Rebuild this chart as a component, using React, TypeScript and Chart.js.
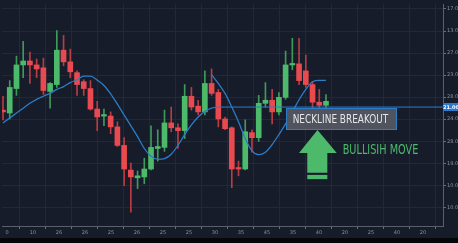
import { useEffect, useRef } from 'react';
import { Chart, registerables } from 'chart.js';

Chart.register(...registerables);

// ---- data (price units) ----
const candleOpen = [14.41, 14.28, 15.39, 16.46, 16.64, 16.46, 16.33, 15.26, 15.57, 17.13, 16.60, 16.11, 15.70, 15.39, 14.46, 14.14, 14.14, 13.65, 12.81, 11.69, 11.34, 11.38, 11.74, 12.67, 12.72, 13.83, 13.61, 13.48, 15.04, 14.59, 14.33, 15.62, 15.21, 14.01, 13.61, 11.78, 11.74, 13.39, 13.16, 14.72, 14.86, 14.33, 14.99, 16.46, 16.51, 16.19, 15.57, 14.77, 14.63];
const candleClose = [14.33, 15.44, 16.46, 16.64, 16.46, 16.28, 15.30, 15.62, 17.13, 16.60, 16.15, 15.57, 15.39, 14.46, 14.10, 14.17, 13.65, 12.81, 11.74, 11.38, 11.43, 11.74, 12.72, 12.76, 13.83, 13.61, 13.48, 15.04, 14.55, 14.33, 15.62, 15.17, 14.01, 13.57, 11.74, 11.74, 13.43, 13.16, 14.72, 14.86, 14.33, 14.99, 16.46, 16.51, 15.75, 15.57, 14.77, 14.63, 14.81];
const candleHigh = [15.04, 15.75, 16.86, 17.53, 17.04, 16.73, 16.77, 15.66, 18.02, 17.80, 17.18, 16.19, 15.79, 15.75, 14.81, 14.46, 14.33, 13.88, 13.16, 12.01, 11.65, 12.23, 13.70, 13.52, 14.41, 14.55, 13.79, 15.57, 15.44, 14.86, 16.19, 16.28, 15.35, 14.10, 13.65, 12.10, 13.97, 13.52, 15.08, 15.66, 15.35, 15.21, 17.09, 17.67, 17.67, 16.91, 15.70, 15.35, 15.12];
const candleLow = [13.97, 14.01, 15.08, 15.88, 15.62, 15.88, 15.12, 14.50, 15.44, 16.42, 15.88, 15.08, 15.08, 14.41, 13.48, 13.70, 13.34, 12.76, 10.98, 9.78, 10.85, 11.07, 11.70, 12.10, 12.54, 13.43, 12.67, 13.12, 14.41, 14.19, 14.19, 15.08, 13.65, 13.52, 10.89, 11.43, 11.70, 12.50, 12.99, 14.55, 13.79, 14.19, 14.90, 16.24, 15.57, 15.44, 14.33, 14.10, 14.23];

// moving average, first stretch (candles 0..32)
const maTrend = [13.83, 14.06, 14.28, 14.50, 14.72, 14.90, 15.04, 15.17, 15.35, 15.48, 15.66, 15.79, 15.95, 15.95, 15.77, 15.53, 15.15, 14.68, 14.19, 13.70, 13.21, 12.67, 12.32, 12.18, 12.21, 12.41, 12.81, 13.30, 13.74, 14.10, 14.35, 14.50, 14.55];
// moving average, second stretch (from candle 31)
const maSwingStart = 31;
const maSwing = [16.02, 15.62, 15.17, 14.55, 13.88, 13.12, 12.56, 12.39, 12.50, 12.85, 13.30, 13.79, 14.33, 14.88, 15.35, 15.70, 15.76, 15.76];

const necklineLevel = 14.55;
const necklineStart = 32;

const xTickLabels = ['0', '10', '26', '26', '25', '26', '25', '25', '30', '35', '45', '35', '40', '20', '25', '40', '20'];
// y tick labels from bottom (value 10) to top (value 19)
const yTickValues = [10, 11, 12, 13, 14, 15, 16, 17, 18, 19];
const yTickLabels = ['10.00', '10.00', '19.00', '28.00', '24.00', '28.00', '23.00', '27.00', '13.00', '17.00'];
const priceTag = '21.00';
const calloutText = 'NECKLINE BREAKOUT';
const moveText = 'BULLISIH MOVE';

// ---- layout / styling ----
const X_MIN = -0.149;
const X_MAX = 65.39;
const GRID_MIN = -0.192;
const GRID_MAX = 16.77;
const Y_MIN = 9.154;
const Y_MAX = 19.225;

const BG = '#171c2b';
const GRID = '#222839';
const AXIS = '#5a5f69';
const TICK_TEXT = '#8b909a';
const GREEN = '#4cb96b';
const RED = '#e84a4f';
const GREEN_WICK = '#3f9a5a';
const RED_WICK = '#b93c42';
const BLUE = '#2c7cc6';

// annotation anchors in data units
const callout = { x1: 42.06, x2: 58.4, yTop: 14.5, yBot: 13.57, textX1: 43.05, textX2: 57.26, textBase: 13.847 };
const arrow = { apexX: 46.74, apexY: 13.51, headL: 43.99, headR: 49.6, headY: 12.465, shaftL: 45.22, shaftR: 48.2, shaftBot: 11.574, barTop: 11.472, barBot: 11.28 };
const moveLabel = { x1: 50.48, x2: 61.72, base: 12.438 };

function drawFitText(ctx: CanvasRenderingContext2D, text: string, font: string, color: string, xl: number, xr: number, base: number) {
  ctx.save();
  ctx.font = font;
  ctx.fillStyle = color;
  ctx.textAlign = 'left';
  ctx.textBaseline = 'alphabetic';
  const w = ctx.measureText(text).width;
  ctx.translate(xl, base);
  ctx.scale((xr - xl) / w, 1);
  ctx.fillText(text, 0, 0);
  ctx.restore();
}

export default function App() {
  const ref = useRef<HTMLCanvasElement>(null);
  useEffect(() => {
    document.body.style.margin = '0';
    document.body.style.background = '#050608';
    const canvas = ref.current!;
    const idx = candleOpen.map((_, i) => i);
    const up = (i: number) => candleClose[i] >= candleOpen[i];

    const bgPlugin = {
      id: 'bg',
      beforeDraw(chart: any) {
        const ctx = chart.ctx;
        ctx.save();
        ctx.fillStyle = BG;
        ctx.fillRect(0, 0, chart.width, chart.height);
        ctx.restore();
      },
    };

    const annotations = {
      id: 'annotations',
      afterDatasetsDraw(chart: any) {
        const ctx = chart.ctx;
        const xs = chart.scales.x;
        const ys = chart.scales.y;
        const px = (v: number) => xs.getPixelForValue(v);
        const py = (v: number) => ys.getPixelForValue(v);
        // callout box
        ctx.save();
        const bx1 = Math.round(px(callout.x1)) + 0.5;
        const bx2 = Math.round(px(callout.x2)) + 0.5;
        const by1 = Math.round(py(callout.yTop)) + 0.5;
        const by2 = Math.round(py(callout.yBot)) + 0.5;
        ctx.fillStyle = '#4f545e';
        ctx.fillRect(bx1, by1, bx2 - bx1, by2 - by1);
        ctx.strokeStyle = BLUE;
        ctx.lineWidth = 1;
        ctx.strokeRect(bx1, by1, bx2 - bx1, by2 - by1);
        ctx.restore();
        drawFitText(ctx, calloutText, '12.5px "Liberation Sans Narrow", "DejaVu Sans Condensed", sans-serif', '#e6e7ea', px(callout.textX1), px(callout.textX2), py(callout.textBase));
        // arrow
        ctx.save();
        ctx.fillStyle = GREEN;
        ctx.beginPath();
        ctx.moveTo(px(arrow.apexX), py(arrow.apexY));
        ctx.lineTo(px(arrow.headR), py(arrow.headY));
        ctx.lineTo(px(arrow.shaftR), py(arrow.headY));
        ctx.lineTo(px(arrow.shaftR), py(arrow.shaftBot));
        ctx.lineTo(px(arrow.shaftL), py(arrow.shaftBot));
        ctx.lineTo(px(arrow.shaftL), py(arrow.headY));
        ctx.lineTo(px(arrow.headL), py(arrow.headY));
        ctx.closePath();
        ctx.fill();
        ctx.fillRect(px(arrow.shaftL), py(arrow.barTop), px(arrow.shaftR) - px(arrow.shaftL), py(arrow.barBot) - py(arrow.barTop));
        ctx.restore();
        drawFitText(ctx, moveText, '14.5px "Liberation Sans Narrow", "DejaVu Sans Condensed", sans-serif', GREEN, px(moveLabel.x1), px(moveLabel.x2), py(moveLabel.base));
      },
      afterDraw(chart: any) {
        const ctx = chart.ctx;
        const ys = chart.scales.y;
        const y = Math.round(ys.getPixelForValue(necklineLevel));
        ctx.save();
        ctx.fillStyle = '#2a7ad0';
        ctx.fillRect(ys.left + 1, y - 4, ys.right - ys.left - 1, 8);
        ctx.fillStyle = '#ffffff';
        ctx.font = 'bold 5px "DejaVu Sans", sans-serif';
        ctx.textAlign = 'center';
        ctx.textBaseline = 'middle';
        ctx.fillText(priceTag, (ys.left + ys.right) / 2 + 0.5, y + 0.5);
        ctx.restore();
      },
    };

    const chart = new Chart(canvas, {
      type: 'bar',
      data: {
        datasets: [
          {
            type: 'line',
            label: 'MA',
            data: maTrend.map((v, i) => ({ x: i, y: v })),
            borderColor: BLUE,
            borderWidth: 1.3,
            pointRadius: 0,
            cubicInterpolationMode: 'monotone',
            order: 0,
          },
          {
            type: 'line',
            label: 'MA2',
            data: maSwing.map((v, k) => ({ x: maSwingStart + k, y: v })),
            borderColor: BLUE,
            borderWidth: 1.3,
            pointRadius: 0,
            cubicInterpolationMode: 'monotone',
            order: 0,
          },
          {
            type: 'line',
            label: 'Neckline',
            data: [{ x: necklineStart, y: necklineLevel }, { x: X_MAX, y: necklineLevel }],
            borderColor: BLUE,
            borderWidth: 1,
            pointRadius: 0,
            order: 0,
          },
          {
            type: 'bar',
            label: 'Body',
            data: idx.map((i) => ({ x: i, y: [candleOpen[i], candleClose[i]] })),
            backgroundColor: idx.map((i) => (up(i) ? GREEN : RED)),
            barThickness: 5,
            minBarLength: 1.5,
            grouped: false,
            order: 1,
          },
          {
            type: 'bar',
            label: 'Wick',
            data: idx.map((i) => ({ x: i, y: [candleLow[i], candleHigh[i]] })),
            backgroundColor: idx.map((i) => (up(i) ? GREEN_WICK : RED_WICK)),
            barThickness: 1,
            grouped: false,
            order: 2,
          },
        ] as any,
      },
      options: {
        responsive: false,
        animation: false,
        devicePixelRatio: 1,
        layout: { padding: { left: 2, right: 0, top: 0, bottom: 0 } },
        plugins: { legend: { display: false }, tooltip: { enabled: false } },
        scales: {
          x: {
            type: 'linear',
            display: false,
            min: X_MIN,
            max: X_MAX,
            offset: false,
            grid: { offset: false },
          },
          xg: {
            type: 'linear',
            position: 'bottom',
            min: GRID_MIN,
            max: GRID_MAX,
            offset: false,
            afterBuildTicks: (s: any) => {
              s.ticks = xTickLabels.map((_, k) => ({ value: k }));
            },
            afterFit: (s: any) => {
              s.height = 12;
            },
            grid: { color: GRID, tickColor: '#6a6f79', tickLength: 3, lineWidth: 1 },
            border: { display: true, color: AXIS, width: 1 },
            ticks: {
              color: TICK_TEXT,
              font: { size: 5, family: 'DejaVu Sans' },
              padding: 1,
              maxRotation: 0,
              autoSkip: false,
              callback: (v: any) => xTickLabels[Math.round(Number(v))] ?? '',
            },
          },
          y: {
            type: 'linear',
            position: 'right',
            min: Y_MIN,
            max: Y_MAX,
            beginAtZero: false,
            afterBuildTicks: (s: any) => {
              s.ticks = yTickValues.map((v) => ({ value: v }));
            },
            afterFit: (s: any) => {
              s.width = 15;
            },
            grid: { color: GRID, tickColor: '#6a6f79', tickLength: 3, lineWidth: 1 },
            border: { display: true, color: AXIS, width: 1 },
            ticks: {
              color: TICK_TEXT,
              font: { size: 5, family: 'DejaVu Sans' },
              padding: 1,
              autoSkip: false,
              callback: (v: any) => yTickLabels[yTickValues.indexOf(Math.round(Number(v)))] ?? '',
            },
          },
        },
      } as any,
      plugins: [bgPlugin, annotations],
    });
    return () => chart.destroy();
  }, []);

  return (
    <div style={{ position: 'absolute', left: 0, top: 0, width: 458, height: 243, background: '#050608' }}>
      <canvas ref={ref} width={458} height={238} style={{ display: 'block', width: 458, height: 238 }} />
    </div>
  );
}
